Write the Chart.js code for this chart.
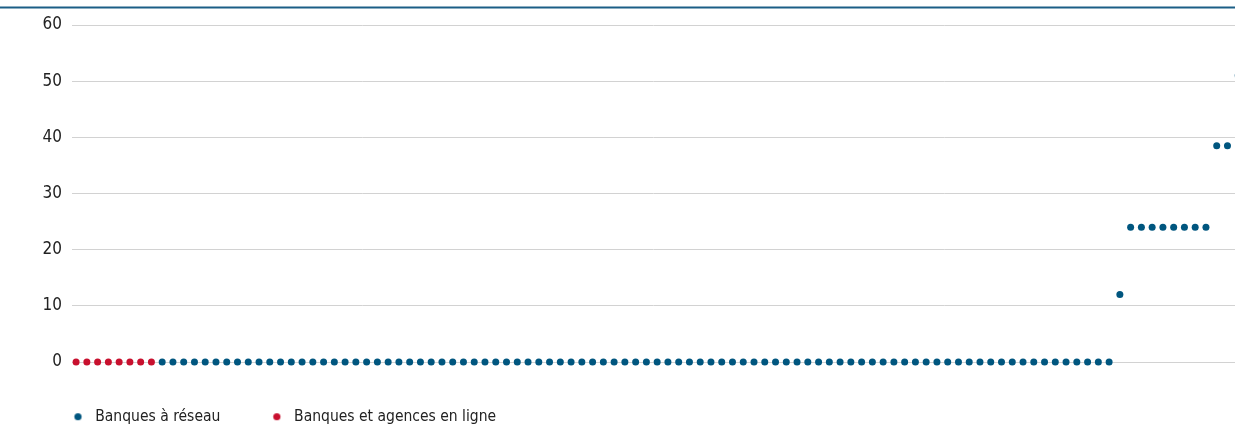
<!DOCTYPE html>
<html>
<head>
<meta charset="utf-8">
<script src="https://cdn.jsdelivr.net/npm/chart.js@4"></script>
<style>
  html, body { margin: 0; padding: 0; background: #fff; }
  #wrap { width: 1235px; height: 425px; position: relative; }
</style>
</head>
<body>
<div id="wrap"><canvas id="myChart" width="1235" height="425"></canvas></div>
<script>
// one dot per bank, sorted by value
const seriesNames = ["Banques à réseau", "Banques et agences en ligne"];
const enLigneValues = [0, 0, 0, 0, 0, 0, 0, 0];
const reseauValues = [
  0, 0, 0, 0, 0, 0, 0, 0, 0, 0,
  0, 0, 0, 0, 0, 0, 0, 0, 0, 0,
  0, 0, 0, 0, 0, 0, 0, 0, 0, 0,
  0, 0, 0, 0, 0, 0, 0, 0, 0, 0,
  0, 0, 0, 0, 0, 0, 0, 0, 0, 0,
  0, 0, 0, 0, 0, 0, 0, 0, 0, 0,
  0, 0, 0, 0, 0, 0, 0, 0, 0, 0,
  0, 0, 0, 0, 0, 0, 0, 0, 0, 0,
  0, 0, 0, 0, 0, 0, 0, 0, 0,
  12,
  24, 24, 24, 24, 24, 24, 24, 24,
  38.5, 38.5,
  51
];
const yTicks = [0, 10, 20, 30, 40, 50, 60];
const unitLabel = "(en euros)";

const blue = "#00567f";
const red = "#c8102e";
const font = "'Liberation Sans Narrow', 'DejaVu Sans Condensed', Arial, sans-serif";

const enLignePoints = enLigneValues.map((v, i) => ({ x: i, y: v }));
const reseauPoints = reseauValues.map((v, i) => ({ x: enLigneValues.length + i, y: v }));

// legend marker: small dot on the left of a wider box
function legendDot(color) {
  const c = document.createElement("canvas");
  c.width = 15; c.height = 9;
  const g = c.getContext("2d");
  g.fillStyle = color;
  g.beginPath();
  g.arc(5.5, 4.5, 3.6, 0, Math.PI * 2);
  g.fill();
  return c;
}

const frame = {
  id: "frame",
  afterLayout(chart) {
    const lg = chart.legend;
    lg.left = 21.5;
    lg.top = 358;
  },
  beforeDraw(chart) {
    const ctx = chart.ctx;
    ctx.save();
    ctx.fillStyle = "#555";
    ctx.font = "12px " + font;
    ctx.textBaseline = "alphabetic";
    ctx.fillText(unitLabel, 3, -1);
    ctx.strokeStyle = "#1b5e86";
    ctx.lineWidth = 2;
    ctx.beginPath();
    ctx.moveTo(0, 7.5);
    ctx.lineTo(chart.width, 7.5);
    ctx.stroke();
    ctx.restore();
  }
};

const ctx = document.getElementById("myChart");
new Chart(ctx, {
  type: "scatter",
  data: {
    datasets: [
      {
        label: seriesNames[0],
        data: reseauPoints,
        backgroundColor: blue,
        borderWidth: 0,
        pointRadius: 3.5,
        pointHoverRadius: 3.5,
        clip: false
      },
      {
        label: seriesNames[1],
        data: enLignePoints,
        backgroundColor: red,
        borderWidth: 0,
        pointRadius: 3.5,
        pointHoverRadius: 3.5,
        clip: false
      }
    ]
  },
  options: {
    responsive: false,
    animation: false,
    events: [],
    layout: { autoPadding: false, padding: { top: 25, left: 0, right: 0, bottom: 0 } },
    scales: {
      x: {
        type: "linear",
        display: false,
        min: -0.38,
        max: 107.7
      },
      y: {
        min: 0,
        max: 60,
        afterFit(scale) { scale.width = 72; },
        afterBuildTicks(scale) { scale.ticks = yTicks.map(v => ({ value: v })); },
        border: { display: false },
        grid: { color: "#d2d2d2", lineWidth: 1, drawTicks: false },
        ticks: {
          padding: 10,
          color: "#222",
          font: { family: font, size: 17 }
        }
      }
    },
    plugins: {
      tooltip: { enabled: false },
      legend: {
        position: "bottom",
        align: "start",
        maxHeight: 63,
        labels: {
          usePointStyle: true,
          boxWidth: 15,
          boxHeight: 9,
          padding: 51,
          color: "#222",
          font: { family: font, size: 15.5 },
          generateLabels(chart) {
            return chart.data.datasets.map((ds, i) => ({
              text: ds.label,
              pointStyle: legendDot(ds.backgroundColor),
              fillStyle: ds.backgroundColor,
              strokeStyle: ds.backgroundColor,
              lineWidth: 0,
              hidden: false,
              datasetIndex: i,
              fontColor: "#222"
            }));
          }
        }
      }
    }
  },
  plugins: [frame]
});
</script>
</body>
</html>
